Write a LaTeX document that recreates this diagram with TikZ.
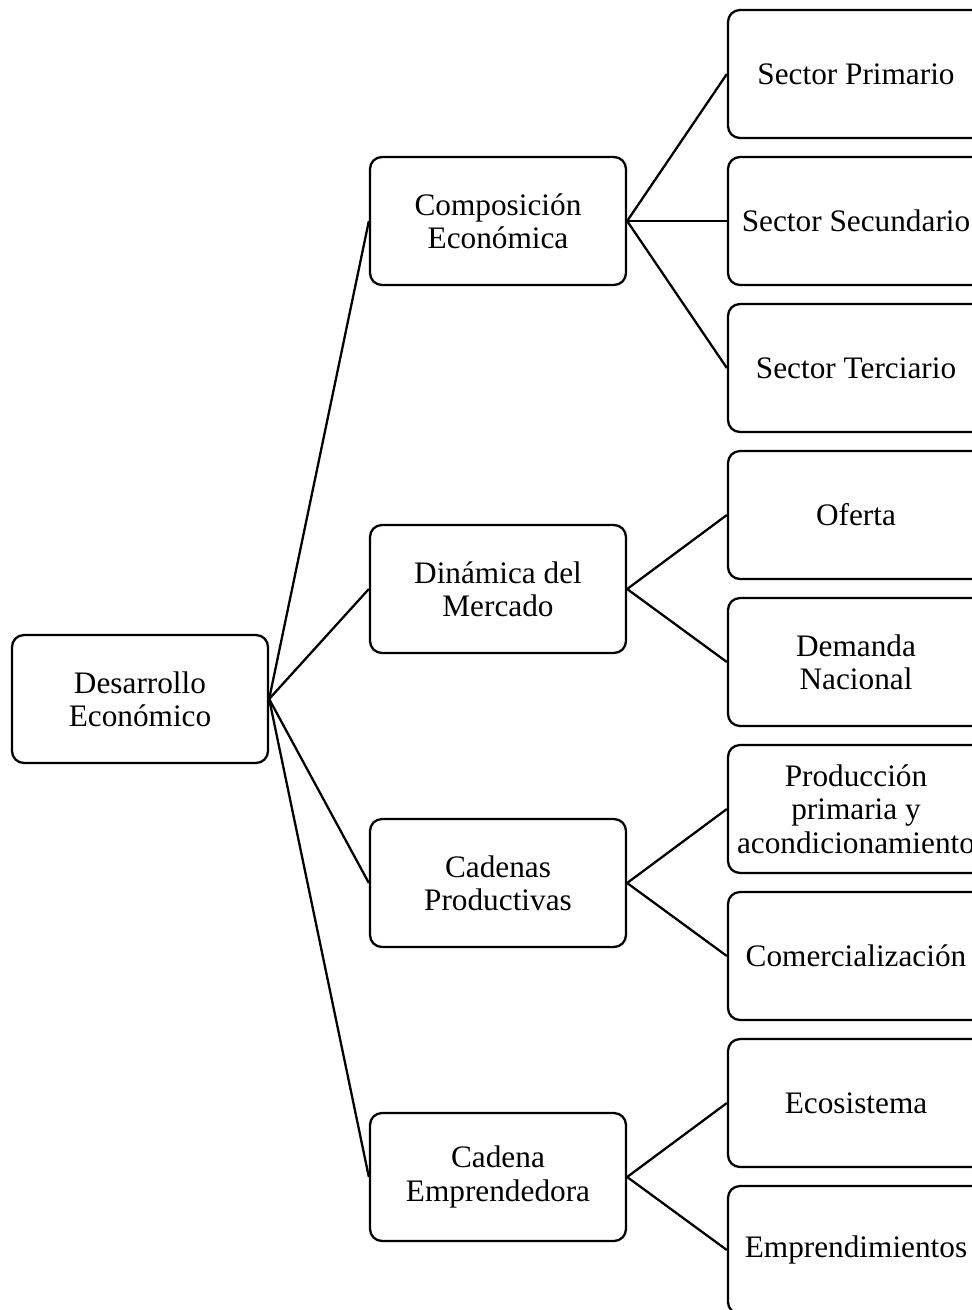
\documentclass[tikz,border=0pt]{standalone}
\usepackage{fontspec}
\setmainfont{Liberation Serif}
\usepackage{tikz}
\usetikzlibrary{positioning,calc}

\begin{document}
\begin{tikzpicture}[
    font=\fontsize{17.8}{19}\selectfont,
    box/.style={rectangle, draw=black, line width=1.3pt, rounded corners=0.24cm, minimum width=5.12cm, minimum height=2.56cm, align=center, inner sep=1pt},
    root/.style={box},
    branch/.style={box},
    leaf/.style={box},
    link/.style={line width=1.3pt, black}
]
    \useasboundingbox (0, 0) rectangle (19.44, -26.2);
    \clip (0, 0) rectangle (19.44, -26.2);

    % Root
    \node[root] (dev) at (2.8, -13.98) {Desarrollo\\Económico};

    % Middle column
    \node[branch] (comp) at (9.96, -4.42) {Composición\\Económica};
    \node[branch] (dyn) at (9.96, -11.78) {Dinámica del\\Mercado};
    \node[branch] (chains) at (9.96, -17.66) {Cadenas\\Productivas};
    \node[branch] (entre) at (9.96, -23.54) {Cadena\\Emprendedora};

    % Right column
    \node[leaf] (prim) at (17.12, -1.48) {Sector Primario};
    \node[leaf] (sec) at (17.12, -4.42) {Sector Secundario};
    \node[leaf] (ter) at (17.12, -7.36) {Sector Terciario};
    \node[leaf] (offer) at (17.12, -10.3) {Oferta};
    \node[leaf] (demand) at (17.12, -13.24) {Demanda\\Nacional};
    \node[leaf] (prod) at (17.12, -16.18) {Producción\\primaria y\\acondicionamiento};
    \node[leaf] (trade) at (17.12, -19.12) {Comercialización};
    \node[leaf] (eco) at (17.12, -22.06) {Ecosistema};
    \node[leaf] (ventures) at (17.12, -25) {Emprendimientos};

    % Links
    \foreach \m in {comp, dyn, chains, entre}
        \draw[link] (dev.east) -- (\m.west);
    \foreach \r in {prim, sec, ter}
        \draw[link] (comp.east) -- (\r.west);
    \foreach \r in {offer, demand}
        \draw[link] (dyn.east) -- (\r.west);
    \foreach \r in {prod, trade}
        \draw[link] (chains.east) -- (\r.west);
    \foreach \r in {eco, ventures}
        \draw[link] (entre.east) -- (\r.west);
\end{tikzpicture}
\end{document}
